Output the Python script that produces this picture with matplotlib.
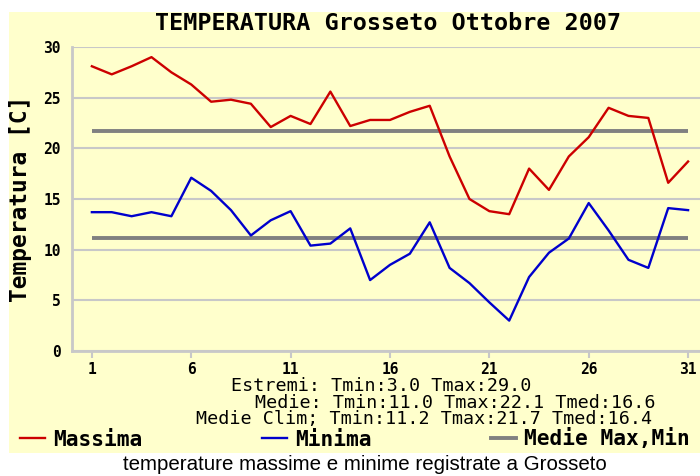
import numpy as np
import matplotlib
matplotlib.use('Agg')
from matplotlib import pyplot as plt
from matplotlib.patches import Rectangle

# daily temperatures, Grosseto, October 2007
days = np.arange(1, 32)
t_max = [28.1, 27.3, 28.1, 29.0, 27.5, 26.3, 24.6, 24.8, 24.4, 22.1,
         23.2, 22.4, 25.6, 22.2, 22.8, 22.8, 23.6, 24.2, 19.2, 15.0,
         13.8, 13.5, 18.0, 15.9, 19.2, 21.1, 24.0, 23.2, 23.0, 16.6,
         18.7]
t_min = [13.7, 13.7, 13.3, 13.7, 13.3, 17.1, 15.8, 13.9, 11.4, 12.9,
         13.8, 10.4, 10.6, 12.1, 7.0, 8.5, 9.6, 12.7, 8.2, 6.7,
         4.8, 3.0, 7.3, 9.7, 11.1, 14.6, 11.9, 9.0, 8.2, 14.1,
         13.9]
clim_max = 21.7
clim_min = 11.2

stats_lines = ['Estremi: Tmin:3.0 Tmax:29.0',
               'Medie: Tmin:11.0 Tmax:22.1 Tmed:16.6',
               'Medie Clim; Tmin:11.2 Tmax:21.7 Tmed:16.4']
xticks = [1, 6, 11, 16, 21, 26, 31]
yticks = [0, 5, 10, 15, 20, 25, 30]

cream = '#ffffcc'
grid_col = '#c8c8c8'
mono = 'DejaVu Sans Mono'

fig = plt.figure(figsize=(7, 4.76), dpi=100)
fig.patches.append(Rectangle((9/700, 1-453/476), 691/700, 441/476,
                             transform=fig.transFigure, facecolor=cream,
                             edgecolor='none', zorder=-5))

ax = fig.add_axes([72/700, 1-351/476, 628/700, 304/476])
ax.set_facecolor(cream)
ax.plot(days, [clim_max]*len(days), color='#808080', lw=2.8, solid_capstyle='butt')
ax.plot(days, [clim_min]*len(days), color='#808080', lw=2.8, solid_capstyle='butt')
l_max, = ax.plot(days, t_max, color='#cc0000', lw=1.7)
l_min, = ax.plot(days, t_min, color='#0000cc', lw=1.7)
l_avg = plt.Line2D([], [], color='#808080', lw=2.8)

ax.set_xlim(0, 31.6)
ax.set_ylim(0, 30)
ax.set_xticks(xticks)
ax.set_yticks(yticks)
ax.yaxis.grid(True, color=grid_col, lw=1.5)
ax.set_axisbelow(True)
for s in ['top', 'right']:
    ax.spines[s].set_visible(False)
for s in ['left', 'bottom']:
    ax.spines[s].set_color(grid_col)
    ax.spines[s].set_linewidth(2)
ax.tick_params(axis='x', length=5, width=1.5, color=grid_col, pad=3)
ax.tick_params(axis='y', length=0, pad=8)
for lab in ax.get_xticklabels() + ax.get_yticklabels():
    lab.set_fontfamily(mono)
    lab.set_fontweight('bold')
    lab.set_fontsize(10.5)

ax.set_ylabel('Temperatura [C]', fontfamily=mono, fontweight='bold', fontsize=16.5)
ax.yaxis.set_label_coords(-40/628, 0.5)

fig.text(388/700, 1-24/476, 'TEMPERATURA Grosseto Ottobre 2007', ha='center', va='center',
         fontfamily=mono, fontweight='bold', fontsize=16.8)

# summary lines, centred where each one sits
for xc, yc, txt in zip([381, 455, 424], [386, 402.5, 419], stats_lines):
    fig.text(xc/700, 1-yc/476, txt, ha='center', va='center',
             fontfamily=mono, fontsize=13.2, linespacing=1.0)

leg = fig.legend([l_max, l_min, l_avg], ['Massima', 'Minima', 'Medie Max,Min'],
                 ncol=3, mode='expand', loc='center left',
                 bbox_to_anchor=(20/700, 1-439/476, 670/700, 0.0),
                 frameon=False, handlelength=1.2, handletextpad=0.38,
                 borderaxespad=0, borderpad=0,
                 prop={'family': mono, 'weight': 'bold', 'size': 15.2})

fig.text(365/700, 1-465/476, 'temperature massime e minime registrate a Grosseto',
         ha='center', va='center', fontfamily='Liberation Sans', fontsize=14.8)

fig.savefig('out.png', dpi=100, facecolor='white')
